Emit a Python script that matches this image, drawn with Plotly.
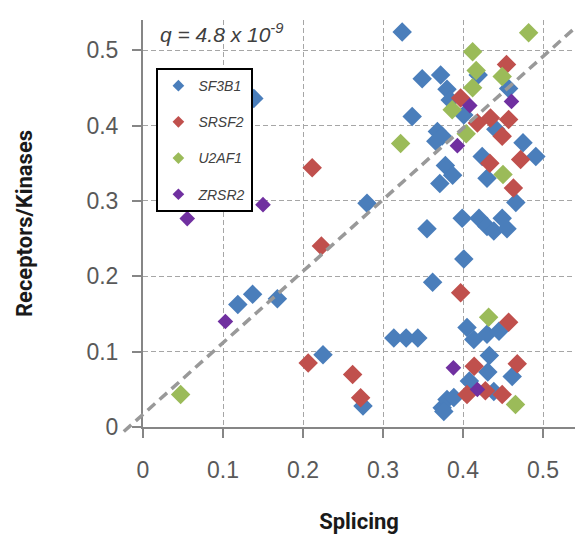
import plotly.graph_objects as go

# ---- data ----
SF3B1_X = [0.324, 0.1385, 0.349, 0.372, 0.419, 0.380, 0.384, 0.457, 0.401, 0.3365,
           0.368, 0.374, 0.366, 0.441, 0.475, 0.491, 0.424, 0.378, 0.387, 0.371,
           0.430, 0.466, 0.280, 0.399, 0.420, 0.430, 0.4385, 0.449, 0.455, 0.355,
           0.401, 0.362, 0.405, 0.4135, 0.430, 0.445, 0.3135, 0.329, 0.3435, 0.433,
           0.4615, 0.431, 0.408, 0.275, 0.374, 0.380, 0.3885, 0.376, 0.4385, 0.1185,
           0.137, 0.168, 0.225]
SF3B1_Y = [0.524, 0.436, 0.462, 0.467, 0.467, 0.448, 0.434, 0.449, 0.414, 0.412,
           0.392, 0.386, 0.379, 0.395, 0.377, 0.359, 0.359, 0.347, 0.334, 0.323,
           0.330, 0.298, 0.297, 0.277, 0.277, 0.266, 0.260, 0.277, 0.263, 0.263,
           0.223, 0.192, 0.132, 0.116, 0.123, 0.127, 0.118, 0.118, 0.118, 0.095,
           0.067, 0.073, 0.061, 0.028, 0.0255, 0.0365, 0.039, 0.0206, 0.047, 0.1625,
           0.176, 0.170, 0.096]

SRSF2_X = [0.2115, 0.223, 0.2065, 0.262, 0.272, 0.4544, 0.397, 0.4344, 0.457, 0.418,
           0.449, 0.472, 0.4335, 0.463, 0.397, 0.457, 0.4678, 0.414, 0.405, 0.428, 0.449]
SRSF2_Y = [0.344, 0.240, 0.085, 0.0696, 0.0387, 0.481, 0.4366, 0.410, 0.408, 0.4034,
           0.3857, 0.355, 0.350, 0.317, 0.178, 0.139, 0.0838, 0.0806, 0.043, 0.048, 0.043]

U2AF1_X = [0.482, 0.412, 0.4165, 0.449, 0.412, 0.3865, 0.404, 0.322, 0.450, 0.432, 0.4656, 0.047]
U2AF1_Y = [0.523, 0.498, 0.473, 0.465, 0.450, 0.421, 0.389, 0.376, 0.335, 0.1456, 0.030, 0.043]

ZRSR2_X = [0.0553, 0.150, 0.103, 0.4085, 0.4606, 0.393, 0.388, 0.418]
ZRSR2_Y = [0.2765, 0.295, 0.140, 0.4264, 0.432, 0.3733, 0.0785, 0.0497]

SERIES = ["SF3B1", "SRSF2", "U2AF1", "ZRSR2"]
COLORS = ["#4a7ebb", "#c0504d", "#9bbb59", "#7030a0"]

TICKS = [0, 0.1, 0.2, 0.3, 0.4, 0.5]
TICK_TEXT = ["0", "0.1", "0.2", "0.3", "0.4", "0.5"]
AXIS_RANGE = [0, 0.54]

# diagonal reference line (data units)
LINE_X = [-0.024, 0.551]
LINE_Y = [-0.006, 0.540]

Q_TEXT = "<i>q = 4.8 x 10<sup>-9</sup></i>"

xs = [SF3B1_X, SRSF2_X, U2AF1_X, ZRSR2_X]
ys = [SF3B1_Y, SRSF2_Y, U2AF1_Y, ZRSR2_Y]
sizes = [15, 15, 15, 12]

fig = go.Figure()
for name, x, y, c, s in zip(SERIES, xs, ys, COLORS, sizes):
    fig.add_trace(go.Scatter(x=x, y=y, mode="markers", name=name, showlegend=False,
                             marker=dict(symbol="diamond", size=s, color=c, line=dict(width=0))))
# legend entries (small symbols)
for name, c in zip(SERIES, COLORS):
    fig.add_trace(go.Scatter(x=[None], y=[None], mode="markers", name=name, legendgroup=name,
                             marker=dict(symbol="diamond", size=9, color=c)))

def to_paper(v):
    return (v - AXIS_RANGE[0]) / (AXIS_RANGE[1] - AXIS_RANGE[0])

fig.add_shape(type="line", xref="paper", yref="paper",
              x0=to_paper(LINE_X[0]), y0=to_paper(LINE_Y[0]),
              x1=to_paper(LINE_X[1]), y1=to_paper(LINE_Y[1]),
              line=dict(color="#999999", width=3.5, dash="10px,6px"), layer="above")

fig.add_annotation(text=Q_TEXT, xref="paper", yref="paper", x=0.034, y=0.968,
                   xanchor="left", yanchor="middle", showarrow=False,
                   font=dict(family="Liberation Sans, Arial", size=21, color="#404040"))

axis_common = dict(range=AXIS_RANGE, tickvals=TICKS, ticktext=TICK_TEXT,
                   showgrid=True, gridcolor="#a6a6a6", gridwidth=1, griddash="5px,3px",
                   zeroline=False, showline=True, linecolor="#868686", linewidth=2,
                   ticks="outside", ticklen=9, tickwidth=1.5, tickcolor="#868686",
                   tickfont=dict(family="Liberation Sans, Arial", size=23, color="#595959"),
                   automargin=False)

# page body has an 8px default margin; figure is sized to fit the 583x535 window
fig.update_layout(
    width=575, height=527,
    margin=dict(l=134.5, r=8, t=12, b=107.5),
    paper_bgcolor="white", plot_bgcolor="white",
    xaxis=dict(**axis_common, ticklabelstandoff=12,
               title=dict(text="<b>Splicing</b>", standoff=32,
                          font=dict(family="Roboto", size=22, color="#1a1a1a"))),
    yaxis=dict(**axis_common, ticklabelstandoff=9,
               title=dict(text="<b>Receptors/Kinases</b>", standoff=48,
                          font=dict(family="Roboto", size=22, color="#1a1a1a"))),
    legend=dict(x=0.031, y=0.882, xanchor="left", yanchor="top",
                bordercolor="#000000", borderwidth=2, bgcolor="white",
                font=dict(family="Liberation Sans, Arial", size=14, color="#404040",
                          style="italic"),
                tracegroupgap=15, itemwidth=30),
    showlegend=True,
)

fig.write_html("out.html")
